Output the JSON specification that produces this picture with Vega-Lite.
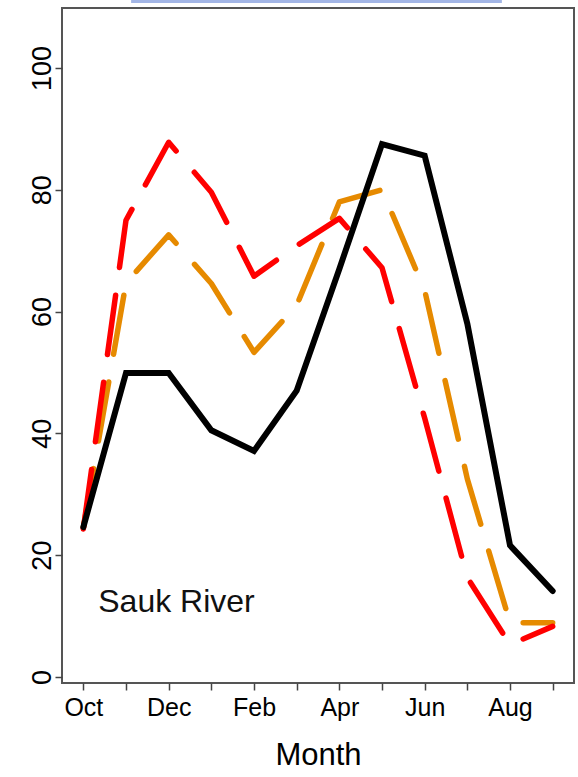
{
  "$schema": "https://vega.github.io/schema/vega-lite/v6.json",
  "width": 512,
  "height": 675,
  "autosize": {"type": "none"},
  "padding": {"left": 62, "top": 8, "right": 4, "bottom": 94},
  "background": "white",
  "config": {
    "view": {"stroke": "#555555", "strokeWidth": 2},
    "font": "Liberation Sans"
  },
  "data": {"name": "flows"},
  "datasets": {
    "flows": [
      {"series": "Observed", "m": 1, "v": 24.6},
      {"series": "Observed", "m": 2, "v": 49.9},
      {"series": "Observed", "m": 3, "v": 49.9},
      {"series": "Observed", "m": 4, "v": 40.5},
      {"series": "Observed", "m": 5, "v": 37.1},
      {"series": "Observed", "m": 6, "v": 47.0},
      {"series": "Observed", "m": 7, "v": 67.0},
      {"series": "Observed", "m": 8, "v": 87.5},
      {"series": "Observed", "m": 9, "v": 85.6},
      {"series": "Observed", "m": 10, "v": 58.0},
      {"series": "Observed", "m": 11, "v": 21.6},
      {"series": "Observed", "m": 12, "v": 14.1},
      {"series": "Scenario A", "m": 1, "v": 24.3},
      {"series": "Scenario A", "m": 2, "v": 75.0},
      {"series": "Scenario A", "m": 3, "v": 87.8},
      {"series": "Scenario A", "m": 4, "v": 79.6},
      {"series": "Scenario A", "m": 5, "v": 65.8},
      {"series": "Scenario A", "m": 6, "v": 70.8},
      {"series": "Scenario A", "m": 7, "v": 75.3},
      {"series": "Scenario A", "m": 8, "v": 67.2},
      {"series": "Scenario A", "m": 9, "v": 42.5},
      {"series": "Scenario A", "m": 10, "v": 16.3},
      {"series": "Scenario A", "m": 11, "v": 5.3},
      {"series": "Scenario A", "m": 12, "v": 8.3},
      {"series": "Scenario B", "m": 1, "v": 24.5},
      {"series": "Scenario B", "m": 2, "v": 64.7},
      {"series": "Scenario B", "m": 3, "v": 72.6},
      {"series": "Scenario B", "m": 4, "v": 64.6},
      {"series": "Scenario B", "m": 5, "v": 53.3},
      {"series": "Scenario B", "m": 6, "v": 61.0},
      {"series": "Scenario B", "m": 7, "v": 78.0},
      {"series": "Scenario B", "m": 8, "v": 80.0},
      {"series": "Scenario B", "m": 9, "v": 63.5},
      {"series": "Scenario B", "m": 10, "v": 32.5},
      {"series": "Scenario B", "m": 11, "v": 8.9},
      {"series": "Scenario B", "m": 12, "v": 8.9}
    ]
  },
  "encoding": {
    "x": {
      "field": "m",
      "type": "quantitative",
      "scale": {"domain": [0.5, 12.5], "nice": false, "zero": false},
      "axis": {
        "title": "Month",
        "titleFontSize": 31,
        "titleFontWeight": "normal",
        "titleColor": "black",
        "titlePadding": 20,
        "values": [1, 2, 3, 4, 5, 6, 7, 8, 9, 10, 11, 12],
        "labelExpr": "datum.value % 2 == 1 ? ['Oct','Nov','Dec','Jan','Feb','Mar','Apr','May','Jun','Jul','Aug','Sep'][datum.value - 1] : ''",
        "labelFontSize": 25,
        "labelColor": "black",
        "labelPadding": 5,
        "labelFlush": false,
        "labelOverlap": false,
        "tickSize": 7,
        "tickColor": "#444444",
        "tickWidth": 1.5,
        "domain": false,
        "grid": false
      }
    },
    "y": {
      "field": "v",
      "type": "quantitative",
      "scale": {"domain": [-1, 109.85], "nice": false, "zero": false},
      "axis": {
        "title": null,
        "values": [0, 20, 40, 60, 80, 100],
        "labelAngle": -90,
        "labelAlign": "center",
        "labelBaseline": "alphabetic",
        "labelFontSize": 27,
        "labelColor": "black",
        "labelPadding": 5,
        "labelFlush": false,
        "labelOverlap": false,
        "tickSize": 7,
        "tickColor": "#444444",
        "tickWidth": 1.5,
        "domain": false,
        "grid": false
      }
    }
  },
  "layer": [
    {
      "transform": [{"filter": "datum.series == 'Scenario B'"}],
      "mark": {"type": "line", "color": "#E68A00", "strokeWidth": 5.5, "strokeDash": [60, 28], "strokeCap": "round", "strokeJoin": "round"}
    },
    {
      "transform": [{"filter": "datum.series == 'Scenario A'"}],
      "mark": {"type": "line", "color": "#FF0000", "strokeWidth": 5.5, "strokeDash": [60, 28], "strokeCap": "round", "strokeJoin": "round"}
    },
    {
      "transform": [{"filter": "datum.series == 'Observed'"}],
      "mark": {"type": "line", "color": "#000000", "strokeWidth": 6, "strokeCap": "round", "strokeJoin": "miter"}
    },
    {
      "data": {"values": [{"label": "Sauk River", "x": 1.35, "y": 12.3}]},
      "mark": {"type": "text", "align": "left", "baseline": "middle", "fontSize": 32, "color": "#111111"},
      "encoding": {
        "x": {"field": "x", "type": "quantitative"},
        "y": {"field": "y", "type": "quantitative"},
        "text": {"field": "label"}
      }
    },
    {
      "data": {"values": [{"x": 2.12, "x2": 10.81, "y": 110.9}]},
      "mark": {"type": "rule", "color": "#A3B6E6", "strokeWidth": 3, "clip": false},
      "encoding": {
        "x": {"field": "x", "type": "quantitative"},
        "x2": {"field": "x2"},
        "y": {"field": "y", "type": "quantitative"}
      }
    }
  ]
}
